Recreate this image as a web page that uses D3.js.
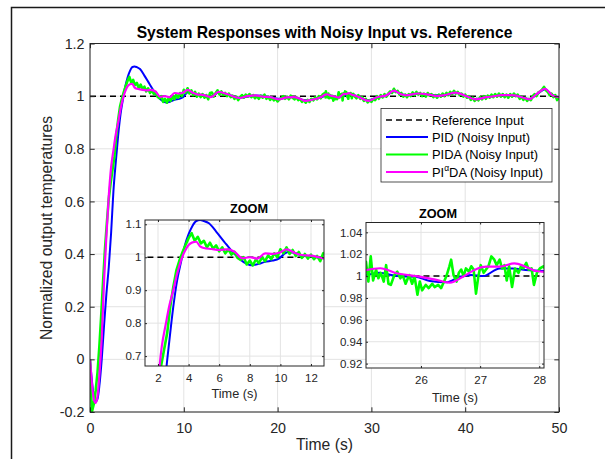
<!DOCTYPE html>
<html>
<head>
<meta charset="utf-8">
<script src="https://cdn.jsdelivr.net/npm/d3@7"></script>
<style>
  body { margin: 0; background: #fff; }
  svg { display: block; }
  text { font-family: "Liberation Sans", Arial, Helvetica, sans-serif; }
</style>
</head>
<body>
<svg id="chart" width="605" height="459"></svg>
<script>
// ---- data ----

// reference input (constant setpoint)
const refT = [0, 50];
const refY = [1, 1];

// PID (Noisy Input), blue
const pidT = [0, 0.2, 0.4, 0.6, 0.8, 1.0, 1.25, 1.5, 1.75, 2.0, 2.25, 2.5, 2.75, 3.0, 3.25, 3.5, 3.75, 4.0,
  4.25, 4.5, 4.75, 5.0, 5.33, 5.8, 6.33, 6.8, 7.22, 7.6, 8.1, 8.6, 9.0, 9.5, 9.9, 10.2, 10.5, 11.0, 11.5, 12.0,
  12.9, 13.7, 14.7, 15.9, 17.6, 19.2, 20.1, 21.7, 22.95, 23.6, 24.6, 25.08, 25.3, 25.6, 25.9, 26.15, 26.43,
  26.66, 26.85, 27.05, 27.33, 27.55, 27.77, 28.07, 28.7, 29.7, 30.6, 31.6, 32.4, 33.7, 34.9, 36.1, 37.8, 39.0,
  39.9, 41.1, 42.3, 43.9, 45.2, 46.8, 47.7, 48.5, 49.3, 50];
const pidY = [0, -0.08, -0.14, -0.16, -0.15, -0.10, 0.0, 0.13, 0.25, 0.35, 0.48, 0.64, 0.75, 0.85, 0.93, 0.985,
  1.035, 1.07, 1.095, 1.11, 1.113, 1.11, 1.103, 1.078, 1.047, 1.02, 1.0, 0.985, 0.976, 0.98, 0.986, 0.99, 0.996,
  1.008, 1.016, 1.012, 1.004, 1.003, 0.997, 1.014, 1.006, 0.994, 1.002, 0.997, 0.99, 0.997, 0.984, 0.986, 0.995,
  1.001, 1.003, 1.0, 0.9995, 0.9956, 0.9944, 0.9995, 1.001, 1.0, 1.007, 1.007, 1.0056, 1.0047, 0.997, 0.984,
  0.995, 1.002, 1.019, 1.004, 1.009, 1.005, 1.003, 1.012, 1.004, 0.989, 0.996, 1.003, 1.002, 0.989, 1.008,
  1.026, 1.004, 0.997];

// PIDA (Noisy Input), green: 0.2 s samples, a finer stretch in the 25-28 s window, then 0.2 s again
const pidaY1 = [
  0, -0.20, -0.17, -0.12, -0.05, 0.05, 0.17, 0.30, 0.42, 0.52,
  0.61, 0.67, 0.72, 0.77, 0.85, 0.91, 0.96, 0.99, 1.015, 1.037,
  1.058, 1.073, 1.05, 1.062, 1.042, 1.05, 1.03, 1.044, 1.026, 1.036,
  1.018, 1.03, 1.012, 1.024, 1.008, 1.016, 0.998, 0.992, 1.0, 0.978,
  0.99, 0.975, 0.994, 0.982, 1.0, 0.988, 1.006, 0.994, 1.012, 1.0,
  1.024, 1.012, 1.03, 1.01, 1.022, 1.004, 1.016, 0.998, 1.01, 0.996,
  1.008, 0.994, 1.004, 0.988, 1.012, 1.014, 0.998, 1.012, 1.022, 1.006,
  1.018, 1.005, 1.012, 1.0, 1.01, 0.996, 1.002, 0.99, 0.998, 0.985,
  0.996, 1.004, 0.994, 1.006, 0.998, 1.008, 0.996, 1.004, 0.992, 1.0,
  0.99, 1.002, 0.994, 1.006, 0.99, 0.998, 0.986, 0.995, 0.984, 0.99,
  0.98, 0.988, 0.992, 1.0, 0.99, 0.998, 0.988, 1.002, 0.994, 0.988,
  0.996, 0.985, 0.99, 0.978, 0.985, 0.975, 0.986, 0.978, 0.99, 0.984,
  0.995, 0.988, 1.0, 0.992, 1.006];
const pidaZoomT = [25.07, 25.11, 25.15, 25.19, 25.24, 25.28, 25.32, 25.37, 25.41, 25.45,
  25.49, 25.55, 25.60, 25.65, 25.69, 25.74, 25.80, 25.85, 25.89, 25.94,
  25.98, 26.02, 26.08, 26.13, 26.19, 26.23, 26.29, 26.34, 26.39, 26.43,
  26.48, 26.51, 26.55, 26.60, 26.64, 26.68, 26.72, 26.76, 26.81, 26.85,
  26.89, 26.93, 26.97, 27.01, 27.06, 27.10, 27.14, 27.19, 27.24, 27.28,
  27.33, 27.37, 27.41, 27.45, 27.49, 27.54, 27.59, 27.65, 27.69, 27.73,
  27.78, 27.82, 27.87, 27.91, 27.96, 28.01, 28.07];
const pidaZoomY = [1.013, 0.995, 1.018, 0.996, 1.006, 0.998, 1.003, 0.995, 1.010, 0.993,
  0.992, 1.001, 1.004, 0.998, 1.001, 0.993, 1.001, 0.993, 1.000, 0.983,
  0.995, 0.987, 0.992, 0.989, 0.993, 0.990, 0.992, 0.989, 0.995, 1.000,
  1.009, 1.015, 1.001, 0.995, 1.003, 1.006, 1.000, 1.007, 1.004, 1.009,
  1.006, 0.984, 1.000, 1.010, 1.003, 1.006, 1.009, 1.018, 1.015, 1.010,
  1.015, 1.007, 1.010, 0.996, 1.009, 0.990, 1.007, 1.003, 1.009, 1.007,
  1.012, 1.006, 1.007, 0.992, 1.003, 1.007, 1.009];
const pidaY3 = [
  1.0, 0.992, 1.004, 0.99, 0.996, 0.982, 0.99, 0.976, 0.985, 0.978,
  0.99, 0.985, 1.0, 0.99, 1.004, 0.995, 1.008, 0.998, 1.01, 1.018,
  1.012, 1.028, 1.015, 1.02, 1.006, 1.012, 0.998, 1.006, 0.996, 1.008,
  1.0, 1.014, 1.004, 1.016, 1.006, 1.012, 1.0, 1.01, 0.998, 1.012,
  1.002, 1.008, 0.996, 1.004, 0.994, 1.006, 0.998, 1.01, 1.0, 1.012,
  1.004, 1.016, 1.008, 1.02, 1.01, 1.016, 1.004, 1.01, 0.998, 1.006,
  0.994, 1.0, 0.986, 0.994, 0.982, 0.99, 0.984, 0.996, 0.988, 1.0,
  0.99, 1.002, 0.994, 1.006, 0.996, 1.008, 0.998, 1.01, 0.998, 1.008,
  0.996, 1.006, 0.994, 1.008, 0.998, 1.01, 1.0, 1.006, 0.99, 0.998,
  0.986, 0.994, 0.982, 0.99, 0.985, 1.0, 1.008, 1.0, 1.014, 1.018,
  1.025, 1.035, 1.022, 1.016, 1.004, 1.01, 0.996, 1.004, 0.985, 0.995];

// PI^alpha DA (Noisy Input), magenta
const piadaT = [0, 0.2, 0.4, 0.6, 0.8, 1.0, 1.25, 1.5, 1.75, 2.0, 2.25, 2.5, 2.75, 3.0, 3.25, 3.5, 3.75, 4.0,
  4.25, 4.5, 4.75, 5.0, 5.5, 6.0, 6.5, 7.0, 7.5, 8.0, 8.5, 9.0, 9.5, 10.0, 10.4, 11.0, 11.5, 12.0, 12.5, 12.9,
  13.7, 14.7, 15.9, 16.8, 17.6, 18.4, 19.2, 20.1, 21.0, 21.7, 22.4, 22.95, 23.6, 24.6, 25.08, 25.31, 25.59,
  25.98, 26.26, 26.49, 26.71, 26.94, 27.1, 27.33, 27.58, 27.77, 27.94, 28.07, 28.7, 29.7, 30.6, 31.6, 32.4,
  33.1, 33.7, 34.9, 36.1, 37.0, 37.8, 39.0, 39.9, 41.1, 42.3, 43.1, 43.9, 45.2, 46.0, 46.8, 47.7, 48.5, 49.3, 50];
const piadaY = [0, -0.09, -0.15, -0.166, -0.14, -0.06, 0.08, 0.30, 0.47, 0.62, 0.73, 0.795, 0.855, 0.90, 0.95,
  0.99, 1.018, 1.037, 1.045, 1.047, 1.033, 1.028, 1.025, 1.022, 1.024, 1.017, 0.997, 1.0, 0.996, 1.012, 1.01,
  1.015, 1.024, 1.012, 1.006, 1.005, 1.0, 0.996, 1.016, 1.007, 0.993, 1.0, 1.003, 0.998, 0.996, 0.988, 0.995,
  0.996, 0.99, 0.982, 0.986, 0.996, 1.0056, 1.0072, 1.0026, 0.9995, 0.9965, 0.994, 0.9995, 1.0065, 1.0086,
  1.0086, 1.0117, 1.0086, 1.0047, 1.004, 0.996, 0.982, 0.996, 1.003, 1.021, 1.008, 1.003, 1.01, 1.006, 1.0,
  1.004, 1.013, 1.003, 0.988, 0.996, 1.0, 1.004, 1.003, 0.996, 0.988, 1.01, 1.028, 1.003, 0.996];

const legendLabels = ["Reference Input", "PID (Noisy Input)", "PIDA (Noisy Input)", "PI\u03B1DA (Noisy Input)"];

const mainXTicks = [0, 10, 20, 30, 40, 50];
const mainYTicks = [-0.2, 0, 0.2, 0.4, 0.6, 0.8, 1, 1.2];
const zoom1XTicks = [2, 4, 6, 8, 10, 12];
const zoom1YTicks = [0.7, 0.8, 0.9, 1, 1.1];
const zoom2XTicks = [26, 27, 28];
const zoom2YTicks = [0.92, 0.94, 0.96, 0.98, 1, 1.02, 1.04];

// ---- build series ----
const pidaT = d3.range(0, 24.81, 0.2).concat(pidaZoomT, d3.range(28.2, 50.01, 0.2));
const pidaY = pidaY1.concat(pidaZoomY, pidaY3);

function toPoints(ts, vs) {
  return d3.zip(ts, vs).map(([t, v]) => ({ t: t, v: v }));
}

const seriesList = [
  { name: "ref", data: toPoints(refT, refY), color: "#000000", width: 1.5, dash: "6,4", curve: d3.curveLinear },
  { name: "pid", data: toPoints(pidT, pidY), color: "#0000ff", width: 2, dash: null, curve: d3.curveMonotoneX },
  { name: "pida", data: toPoints(pidaT, pidaY), color: "#00ff00", width: 2.6, dash: null, curve: d3.curveLinear },
  { name: "piada", data: toPoints(piadaT, piadaY), color: "#ff00ff", width: 2.2, dash: null, curve: d3.curveMonotoneX }
];

const svg = d3.select("#chart");
const axisColor = "#262626";
const gridColor = "#e3e3e3";
const fmt = d => String(+d.toFixed(2));

svg.append("rect").attr("width", 605).attr("height", 459).attr("fill", "#fff");

// figure frame (only top and left edges are inside the picture)
svg.append("path")
  .attr("d", "M11.5,459V7.5H605")
  .attr("fill", "none")
  .attr("stroke", "#1a1a1a")
  .attr("stroke-width", 1.5);

function drawAxes(cfg) {
  const x = d3.scaleLinear().domain(cfg.xDomain).range([cfg.left, cfg.right]);
  const y = d3.scaleLinear().domain(cfg.yDomain).range([cfg.bottom, cfg.top]);
  const w = cfg.right - cfg.left;
  const h = cfg.bottom - cfg.top;
  const g = svg.append("g");

  g.append("rect")
    .attr("x", cfg.left).attr("y", cfg.top).attr("width", w).attr("height", h)
    .attr("fill", "#fff");

  // grid
  g.append("g").selectAll("line").data(cfg.xTicks).join("line")
    .attr("x1", d => x(d)).attr("x2", d => x(d))
    .attr("y1", cfg.top).attr("y2", cfg.bottom)
    .attr("stroke", gridColor).attr("stroke-width", 1);
  g.append("g").selectAll("line").data(cfg.yTicks).join("line")
    .attr("x1", cfg.left).attr("x2", cfg.right)
    .attr("y1", d => y(d)).attr("y2", d => y(d))
    .attr("stroke", gridColor).attr("stroke-width", 1);

  // lines
  g.append("clipPath").attr("id", "clip-" + cfg.id)
    .append("rect")
    .attr("x", cfg.left).attr("y", cfg.top).attr("width", w).attr("height", h);
  const plot = g.append("g").attr("clip-path", "url(#clip-" + cfg.id + ")");
  seriesList.forEach(s => {
    const line = d3.line().x(d => x(d.t)).y(d => y(d.v)).curve(s.curve);
    plot.append("path")
      .datum(s.data)
      .attr("d", line)
      .attr("fill", "none")
      .attr("stroke", s.color)
      .attr("stroke-width", s.width)
      .attr("stroke-linejoin", "round")
      .attr("stroke-dasharray", s.dash);
  });

  // ticks on all four sides, pointing inward
  const L = cfg.tickLen;
  const gx = g.append("g").attr("transform", "translate(0," + cfg.bottom + ")")
    .call(d3.axisBottom(x).tickValues(cfg.xTicks).tickFormat(fmt)
      .tickSizeInner(-L).tickSizeOuter(0).tickPadding(cfg.xPad));
  const gxt = g.append("g").attr("transform", "translate(0," + cfg.top + ")")
    .call(d3.axisTop(x).tickValues(cfg.xTicks).tickFormat(() => "")
      .tickSizeInner(-L).tickSizeOuter(0));
  const gy = g.append("g").attr("transform", "translate(" + cfg.left + ",0)")
    .call(d3.axisLeft(y).tickValues(cfg.yTicks).tickFormat(fmt)
      .tickSizeInner(-L).tickSizeOuter(0).tickPadding(cfg.yPad));
  const gyr = g.append("g").attr("transform", "translate(" + cfg.right + ",0)")
    .call(d3.axisRight(y).tickValues(cfg.yTicks).tickFormat(() => "")
      .tickSizeInner(-L).tickSizeOuter(0));

  [gx, gxt, gy, gyr].forEach(a => {
    a.select(".domain").remove();
    a.attr("font-family", null).attr("font-size", null);
    a.selectAll(".tick line").attr("stroke", axisColor).attr("stroke-width", cfg.boxWidth);
    a.selectAll(".tick text")
      .attr("fill", axisColor)
      .style("font-size", cfg.tickFont + "px");
  });

  g.append("rect")
    .attr("x", cfg.left).attr("y", cfg.top).attr("width", w).attr("height", h)
    .attr("fill", "none").attr("stroke", axisColor).attr("stroke-width", cfg.boxWidth);

  return { x: x, y: y, g: g };
}

// ---- main axes ----
const main = drawAxes({
  id: "main", left: 90, right: 559, top: 43.5, bottom: 412,
  xDomain: [0, 50], yDomain: [-0.2, 1.2],
  xTicks: mainXTicks, yTicks: mainYTicks,
  tickLen: 4.7, xPad: 11, yPad: 5.5, tickFont: 14.3, boxWidth: 1
});

svg.append("text")
  .attr("x", 324.5).attr("y", 37.5)
  .attr("text-anchor", "middle")
  .attr("font-weight", "bold")
  .style("font-size", "15.7px")
  .attr("fill", "#000")
  .text("System Responses with Noisy Input vs. Reference");

svg.append("text")
  .attr("x", 324.5).attr("y", 450)
  .attr("text-anchor", "middle")
  .style("font-size", "15.7px")
  .attr("fill", axisColor)
  .text("Time (s)");

svg.append("text")
  .attr("transform", "translate(51.5,228) rotate(-90)")
  .attr("text-anchor", "middle")
  .style("font-size", "15.7px")
  .attr("fill", axisColor)
  .text("Normalized output temperatures");

// legend
const legend = svg.append("g");
legend.append("rect")
  .attr("x", 381).attr("y", 108.5).attr("width", 171).attr("height", 73.5)
  .attr("fill", "#fff").attr("stroke", axisColor).attr("stroke-width", 0.8);
const legendRows = [120, 137, 154.5, 172];
seriesList.forEach((s, i) => {
  const yy = legendRows[i];
  legend.append("line")
    .attr("x1", 386).attr("x2", 428).attr("y1", yy).attr("y2", yy)
    .attr("stroke", s.color).attr("stroke-width", s.name === "ref" ? 1.5 : 2.2)
    .attr("stroke-dasharray", s.dash);
  const t = legend.append("text")
    .attr("x", 432).attr("y", yy + 4.5)
    .style("font-size", "12.9px")
    .attr("fill", "#000");
  if (s.name === "piada") {
    const lab = legendLabels[i];
    t.append("tspan").text(lab.slice(0, 2));
    t.append("tspan").attr("dy", -6).style("font-size", "8.5px").text(lab.slice(2, 3));
    t.append("tspan").attr("dy", 6).text(lab.slice(3));
  } else {
    t.text(legendLabels[i]);
  }
});

// ---- zoom insets ----
const zoom1 = drawAxes({
  id: "zoom1", left: 145, right: 324, top: 220, bottom: 366,
  xDomain: [1.15, 12.85], yDomain: [0.67, 1.113],
  xTicks: zoom1XTicks, yTicks: zoom1YTicks,
  tickLen: 2, xPad: 8, yPad: 3.5, tickFont: 11.5, boxWidth: 1
});
const zoom2 = drawAxes({
  id: "zoom2", left: 366, right: 544, top: 222.5, bottom: 368,
  xDomain: [25.07, 28.08], yDomain: [0.916, 1.049],
  xTicks: zoom2XTicks, yTicks: zoom2YTicks,
  tickLen: 2, xPad: 8, yPad: 3.7, tickFont: 11.5, boxWidth: 1
});

[[249, 212.5, 234.5, 397.5], [438, 217.8, 455, 401.5]].forEach(p => {
  svg.append("text")
    .attr("x", p[0]).attr("y", p[1])
    .attr("text-anchor", "middle")
    .attr("font-weight", "bold")
    .style("font-size", "12.7px")
    .attr("fill", "#000")
    .text("ZOOM");
  svg.append("text")
    .attr("x", p[2]).attr("y", p[3])
    .attr("text-anchor", "middle")
    .style("font-size", "12.7px")
    .attr("fill", axisColor)
    .text("Time (s)");
});
</script>
</body>
</html>
